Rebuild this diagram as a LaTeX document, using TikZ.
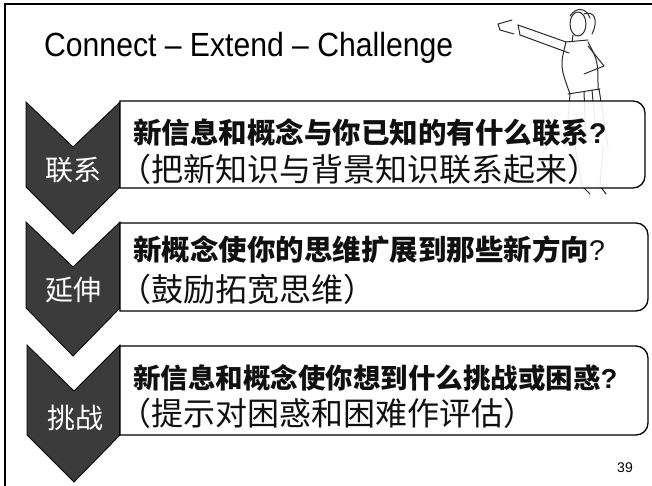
\documentclass[tikz,border=0pt]{standalone}
\usepackage{fontspec}
\setmainfont{Liberation Sans}
\newfontfamily\cjk{Noto Sans CJK SC}
\newfontfamily\headfont[FakeStretch=0.9,Ligatures=TeX]{Liberation Sans}
\usetikzlibrary{positioning}
\definecolor{chev}{HTML}{3B3B3B}
\definecolor{ink}{HTML}{101010}
\definecolor{sketch}{HTML}{2A2A2A}

\begin{document}
\begin{tikzpicture}[x=1pt,y=1pt,
  chevron/.style={fill=chev,draw=black,line width=.8pt},
  card/.style={draw=black,line width=1.3pt,fill=white,fill opacity=.9},
  tag/.style={text=white,inner sep=0pt,font=\cjk\fontsize{28}{30}\selectfont},
  ask/.style={anchor=west,inner sep=0pt,text=ink},
  hint/.style={anchor=west,inner sep=0pt,text=ink,font=\cjk\fontsize{32}{34}\selectfont},
  figure/.style={draw=sketch,line width=1pt,line cap=round,line join=round}]
\useasboundingbox (0,0) rectangle (652,486);
\fill[white] (0,0) rectangle (652,486);
\draw[line width=2.5pt] (5,-5) -- (5,482) -- (660,482);
\node[anchor=base west,inner sep=0pt,font=\headfont\fontsize{33.5}{38}\selectfont] (title) at (44,429) {Connect – Extend – Challenge};

% the little fighter behind the first card
\draw[figure] (578,462) ellipse[x radius=8,y radius=12];
\draw[figure] (584,472) .. controls (594,476) and (599,466) .. (592,452);
\draw[figure] (570,470) .. controls (576,479) and (586,479) .. (590,468);
\draw[figure] (573,451) -- (572,444);
\draw[figure] (566,444) -- (518,461);
\draw[figure] (569,433) -- (520,451);
\draw[figure] (518,461) -- (520,451);
\draw[figure] (512,466) -- (498,462) -- (500,456) -- (514,452);
\draw[figure] (566,444) .. controls (560,420) .. (570,392);
\draw[figure] (588,444) .. controls (598,425) .. (598,396);
\draw[figure] (566,444) -- (588,446);
\draw[figure] (588,440) -- (604,420) -- (584,412);
\draw[figure] (568,392) -- (600,397);
\draw[figure] (570,392) -- (566,340);
\draw[figure] (599,397) -- (608,340);
\draw[figure] (584,394) -- (586,345);
\draw[figure] (592,396) -- (596,352);
\draw[figure] (575,340) -- (582,300) -- (590,292);
\draw[figure] (603,340) -- (600,300) -- (606,292);

% chevrons on the left
\draw[chevron] (26,384) -- (73,339) -- (120,384) -- (120,299) -- (73,252) -- (26,299) -- cycle;
\draw[chevron] (26,264) -- (73,219) -- (120,264) -- (120,178) -- (73,130) -- (26,178) -- cycle;
\draw[chevron] (27,141) -- (74,95) -- (120,141) -- (120,51) -- (74,4) -- (27,51) -- cycle;
\node[tag] (t1) at (73,316) {联系};
\node[tag] (t2) at (73,196) {延伸};
\node[tag] (t3) at (75,68) {挑战};

% cards, rounded on the right only
\draw[card] (120,385) -- (633,385) arc[start angle=90,end angle=0,radius=12] -- (645,310) arc[start angle=0,end angle=-90,radius=12] -- (120,298) -- cycle;
\draw[card] (120,263) -- (636,263) arc[start angle=90,end angle=0,radius=12] -- (648,187) arc[start angle=0,end angle=-90,radius=12] -- (120,175) -- cycle;
\draw[card] (120,140) -- (636,140) arc[start angle=90,end angle=0,radius=12] -- (648,63) arc[start angle=0,end angle=-90,radius=12] -- (120,51) -- cycle;

\node[ask,font=\cjk\bfseries\fontsize{28.5}{30}\selectfont] (q1) at (133,353) {新信息和概念与你已知的有什么联系{\rmfamily ?}};
\node[hint] (h1) at (119,317) {（把新知识与背景知识联系起来）};
\node[ask,font=\cjk\bfseries\fontsize{28.5}{30}\selectfont] (q2) at (133,236) {新概念使你的思维扩展到那些新方向{\rmfamily\mdseries ?}};
\node[hint] (h2) at (119,197) {（鼓励拓宽思维）};
\node[ask,font=\cjk\bfseries\fontsize{27.5}{29}\selectfont] (q3) at (133,108) {新信息和概念使你想到什么挑战或困惑{\rmfamily ?}};
\node[hint] (h3) at (119,73) {（提示对困惑和困难作评估）};

\node[font=\fontsize{14}{16}\selectfont] (pg) at (625,18) {39};
\end{tikzpicture}
\end{document}
